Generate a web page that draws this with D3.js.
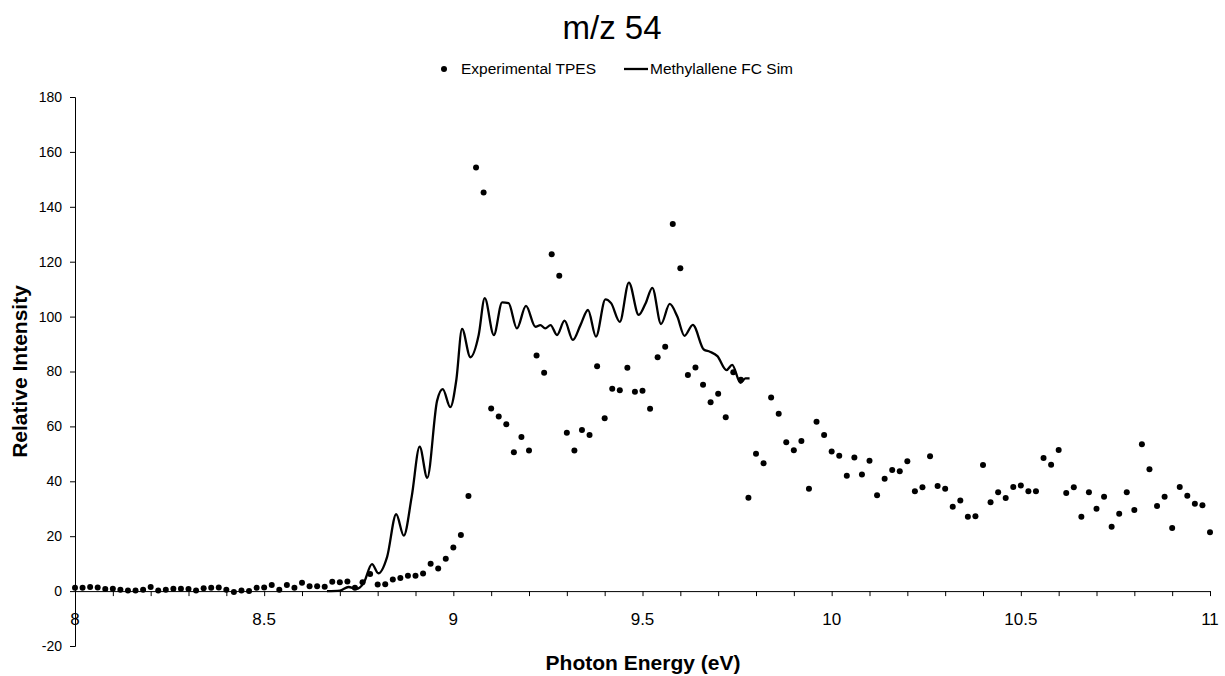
<!DOCTYPE html>
<html>
<head>
<meta charset="utf-8">
<script src="https://cdn.jsdelivr.net/npm/d3@7"></script>
<style>
  body { margin: 0; background: #fff; }
  #myPlot { width: 1225px; height: 676px; }
  text { font-family: "Liberation Sans", Arial, sans-serif; fill: #000; }
</style>
</head>
<body>
<div id="myPlot"></div>
<script>
// Experimental TPES, one point every 0.02 eV from 8 to 11 eV
const tpesStart = 8;
const tpesStep = 0.02;
const tpesValues = [
  1.2, 1.2, 1.5, 1.3, 0.8, 0.9, 0.5, 0.2, 0.2, 0.5,
  1.5, 0.2, 0.5, 0.9, 0.9, 0.8, 0.2, 1.0, 1.2, 1.3,
  0.5, -0.3, 0.2, 0.0, 1.2, 1.3, 2.2, 0.5, 2.2, 1.2,
  3.0, 1.8, 1.8, 1.6, 3.4, 3.2, 3.5, 1.2, 3.2, 6.2,
  2.4, 2.5, 4.2, 4.8, 5.6, 5.6, 6.4, 10.0, 8.2, 11.8,
  15.9, 20.4, 34.6, 154.3, 145.2, 66.5, 63.6, 60.8, 50.6, 56.1,
  51.2, 85.8, 79.5, 122.7, 114.9, 57.7, 51.2, 58.7, 56.9, 81.9,
  63.0, 73.7, 73.2, 81.4, 72.6, 73.0, 66.4, 85.2, 89.0, 133.7,
  117.6, 78.7, 81.5, 75.2, 68.8, 71.9, 63.3, 79.7, 77.0, 34.0,
  50.0, 46.6, 70.5, 64.6, 54.2, 51.3, 54.7, 37.3, 61.7, 56.9,
  50.9, 49.3, 42.0, 48.7, 42.5, 47.5, 34.9, 40.9, 44.1, 43.7,
  47.3, 36.4, 37.8, 49.1, 38.3, 37.3, 30.7, 33.0, 27.1, 27.3,
  45.9, 32.4, 36.0, 33.9, 37.9, 38.5, 36.4, 36.4, 48.5, 46.0,
  51.4, 35.7, 37.8, 27.1, 36.0, 30.0, 34.4, 23.4, 28.2, 36.0,
  29.5, 53.5, 44.4, 31.0, 34.4, 23.0, 37.9, 34.7, 31.8, 31.3,
  21.4
];

// Methylallene FC simulation (traced at peaks and troughs)
const simEnergy = [
  8.666, 8.700, 8.723, 8.743, 8.763, 8.785, 8.802, 8.825, 8.849, 8.869,
  8.890, 8.911, 8.931, 8.957, 8.972, 8.992, 9.008, 9.023, 9.045, 9.067,
  9.083, 9.107, 9.129, 9.146, 9.168, 9.192, 9.217, 9.230, 9.243, 9.257,
  9.274, 9.294, 9.316, 9.336, 9.356, 9.377, 9.402, 9.417, 9.440, 9.464,
  9.490, 9.508, 9.526, 9.549, 9.572, 9.592, 9.611, 9.633, 9.662, 9.678,
  9.698, 9.722, 9.737, 9.759, 9.772, 9.783
];
const simValues = [
  0.0, 0.2, 1.5, 0.8, 2.9, 9.8, 6.5, 12.5, 28.0, 20.2,
  34.4, 52.6, 41.3, 69.3, 73.6, 67.0, 77.0, 95.5, 85.2, 93.3,
  106.7, 93.3, 105.2, 104.9, 95.7, 103.9, 96.3, 96.9, 95.7, 96.9,
  93.3, 98.5, 91.5, 96.9, 102.4, 92.7, 106.3, 104.9, 98.1, 112.4,
  100.6, 104.8, 110.5, 97.3, 104.6, 100.0, 93.0, 97.0, 88.0, 87.2,
  85.6, 80.5, 82.4, 75.9, 77.5, 77.5
];

const yTicks = [-20, 0, 20, 40, 60, 80, 100, 120, 140, 160, 180];
const xMajorTicks = [8, 8.5, 9, 9.5, 10, 10.5, 11];
const xMinorTicks = d3.range(0, 31).map(i => 8 + i / 10);

const chartTitle = "m/z 54";
const xTitle = "Photon Energy (eV)";
const yTitle = "Relative Intensity";
const legendNames = ["Experimental TPES", "Methylallene FC Sim"];

// Set Dimensions
const width = 1225;
const height = 676;
const plotLeft = 75, plotRight = 1210, plotTop = 97, plotBottom = 646;

const svg = d3.select("#myPlot")
  .append("svg")
  .attr("width", width)
  .attr("height", height);

const x = d3.scaleLinear().domain([8, 11]).range([plotLeft, plotRight]);
const y = d3.scaleLinear().domain([-20, 180]).range([plotBottom, plotTop]);

// Y Axis
svg.append("g")
  .attr("transform", "translate(" + plotLeft + ",0)")
  .call(d3.axisLeft(y).tickValues(yTicks).tickSize(5).tickPadding(8).tickFormat(d => String(d)))
  .call(g => g.selectAll("text").style("font-size", "14px").attr("font-family", null))
  .call(g => g.selectAll("line,path").attr("stroke", "#000").attr("stroke-width", 1));

// X Axis (at y = 0), minor ticks every 0.1
const xAxisG = svg.append("g")
  .attr("transform", "translate(0," + y(0) + ")");
xAxisG.call(d3.axisBottom(x).tickValues(xMinorTicks).tickSize(5).tickSizeOuter(0).tickFormat(""))
  .call(g => g.selectAll("line,path").attr("stroke", "#000").attr("stroke-width", 1));
xAxisG.selectAll(".xlab")
  .data(xMajorTicks).enter()
  .append("text")
  .attr("class", "xlab")
  .attr("x", d => x(d))
  .attr("y", 34)
  .attr("text-anchor", "middle")
  .style("font-size", "17px")
  .text(d => d3.format("~g")(d));

// Dots
const tpes = tpesValues.map((v, i) => ({ x: tpesStart + tpesStep * i, y: v }));
svg.append("g")
  .selectAll("circle")
  .data(tpes).enter()
  .append("circle")
  .attr("cx", d => x(d.x))
  .attr("cy", d => y(d.y))
  .attr("r", 3)
  .style("fill", "#000");

// Line
const sim = simEnergy.map((e, i) => ({ x: e, y: simValues[i] }));
svg.append("path")
  .datum(sim)
  .attr("d", d3.line().x(d => x(d.x)).y(d => y(d.y)).curve(d3.curveMonotoneX))
  .attr("fill", "none")
  .attr("stroke", "#000")
  .attr("stroke-width", 2.3);

// Titles
svg.append("text")
  .attr("x", 612).attr("y", 39)
  .attr("text-anchor", "middle")
  .style("font-size", "33px")
  .text(chartTitle);

svg.append("text")
  .attr("x", 643).attr("y", 670)
  .attr("text-anchor", "middle")
  .style("font-size", "21px").style("font-weight", "bold")
  .text(xTitle);

svg.append("text")
  .attr("transform", "translate(27," + ((plotTop + plotBottom) / 2) + ") rotate(-90)")
  .attr("text-anchor", "middle")
  .style("font-size", "21px").style("font-weight", "bold")
  .text(yTitle);

// Legend
const legend = svg.append("g");
legend.append("circle").attr("cx", 444).attr("cy", 69).attr("r", 3).style("fill", "#000");
legend.append("text").attr("x", 461).attr("y", 74).style("font-size", "15.5px").text(legendNames[0]);
legend.append("line").attr("x1", 624).attr("x2", 648).attr("y1", 69).attr("y2", 69)
  .attr("stroke", "#000").attr("stroke-width", 2.3);
legend.append("text").attr("x", 650).attr("y", 74).style("font-size", "15.5px").text(legendNames[1]);
</script>
</body>
</html>
